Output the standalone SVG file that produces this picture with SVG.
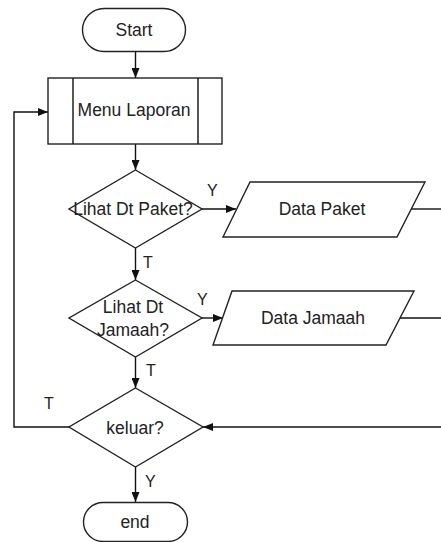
<svg xmlns="http://www.w3.org/2000/svg" width="441" height="542" viewBox="0 0 441 542">
<defs>
<style>
.s{fill:#fff;stroke:#222;stroke-width:1.4}
.c{fill:none;stroke:#111;stroke-width:1.4}
.t{font-family:"Liberation Sans",Arial,sans-serif;font-size:17.5px;fill:#222;text-anchor:middle}
.l{font-family:"Liberation Sans",Arial,sans-serif;font-size:16px;fill:#222}
</style>
<marker id="a" markerWidth="10" markerHeight="8" refX="10" refY="4" orient="auto" markerUnits="userSpaceOnUse">
<path d="M0,0 L10,4 L0,8 Z" fill="#111"/>
</marker>
</defs>
<rect width="441" height="542" fill="#fff"/>
<g id="connectors">
<path class="c" d="M135.5,51 V78" marker-end="url(#a)"/>
<path class="c" d="M135.5,144 V170" marker-end="url(#a)"/>
<path class="c" d="M135.5,248 V280" marker-end="url(#a)"/>
<path class="c" d="M135.5,357 V388" marker-end="url(#a)"/>
<path class="c" d="M135.5,467 V502" marker-end="url(#a)"/>
<path class="c" d="M202,209 H236" marker-end="url(#a)"/>
<path class="c" d="M202,318 H223" marker-end="url(#a)"/>
<path class="c" d="M411,209 H442"/>
<path class="c" d="M400,318 H442"/>
<path class="c" d="M442,427 H203" marker-end="url(#a)"/>
<path class="c" d="M69,427 H14 V112 H48" marker-end="url(#a)"/>
<text class="l" x="207" y="196">Y</text>
<text class="l" x="143" y="268">T</text>
<text class="l" x="197" y="305">Y</text>
<text class="l" x="146" y="376">T</text>
<text class="l" x="44" y="409">T</text>
<text class="l" x="145" y="487">Y</text>
</g>
<g id="start">
<rect class="s" x="82.5" y="8.5" width="103" height="43" rx="21.5"/>
<text class="t" x="134" y="36">Start</text>
</g>
<g id="menu">
<rect class="s" x="48" y="78" width="174" height="66"/>
<path class="c" d="M73,78 V144 M198,78 V144"/>
<text class="t" x="134" y="116">Menu Laporan</text>
</g>
<g id="lihat-paket">
<path class="s" d="M135.5,170 L202,209 L135.5,248 L69,209 Z"/>
<text class="t" x="133" y="215">Lihat Dt Paket?</text>
</g>
<g id="data-paket">
<path class="s" d="M250,182 H425 L397,237 H223 Z"/>
<text class="t" x="322" y="215">Data Paket</text>
</g>
<g id="lihat-jamaah">
<path class="s" d="M135.5,280 L202,318 L135.5,357 L69,318 Z"/>
<text class="t" x="133" y="313">Lihat Dt</text>
<text class="t" x="133" y="336">Jamaah?</text>
</g>
<g id="data-jamaah">
<path class="s" d="M232,291 H414 L386,345 H213 Z"/>
<text class="t" x="313" y="324">Data Jamaah</text>
</g>
<g id="keluar">
<path class="s" d="M135.5,388 L203,427 L135.5,467 L69,427 Z"/>
<text class="t" x="135" y="434">keluar?</text>
</g>
<g id="end">
<rect class="s" x="83.5" y="502.5" width="104" height="39" rx="19.5"/>
<text class="t" x="135" y="528">end</text>
</g>
</svg>
